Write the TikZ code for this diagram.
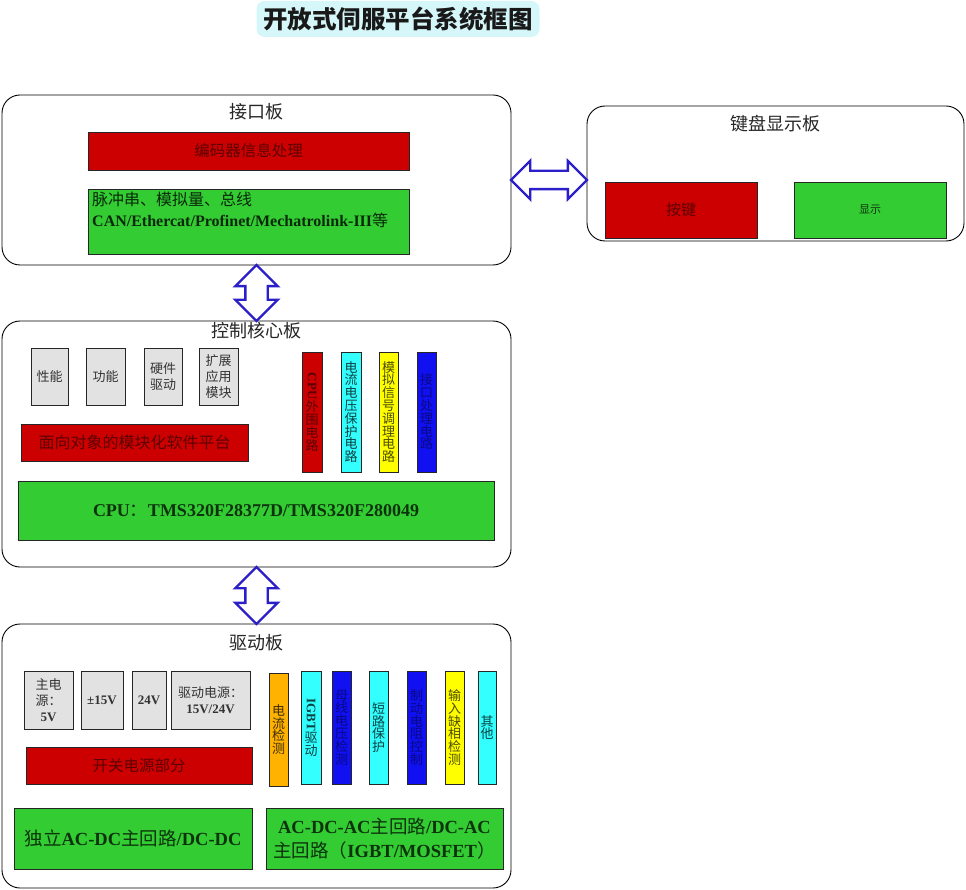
\documentclass[tikz,border=0pt]{standalone}
\usepackage{fontspec}
\usepackage{graphicx}
\setmainfont{Liberation Serif}
\newfontfamily\cjk{Noto Sans CJK SC}
\usetikzlibrary{shapes.arrows,calc}
\definecolor{rd}{HTML}{CC0000}
\definecolor{gn}{HTML}{33CC33}
\definecolor{cy}{HTML}{33FFFF}
\definecolor{yl}{HTML}{FFFF00}
\definecolor{bl}{HTML}{1010F0}
\definecolor{org}{HTML}{FFB300}
\definecolor{gy}{HTML}{E2E2E2}
\definecolor{arrowblue}{HTML}{2A1FC8}
\definecolor{titlebg}{HTML}{D6F7FA}
\newcommand{\lat}[1]{{\rmfamily\bfseries #1}}
\newcommand{\fs}[1]{\fontsize{#1}{#1}\selectfont}
\newcommand{\bx}[7]{\node[#2, minimum width={(#5-#3)*1pt}, minimum height={(#6-#4)*1pt}] (#1) at ({(#3+#5)/2},{(#4+#6)/2}) {#7};}
\tikzset{
  board/.style={draw=black, line width=0.9pt, rounded corners=18pt, fill=white, inner sep=0pt},
  blk/.style={draw=black!85, line width=0.8pt, inner sep=0pt, font=\cjk\fontsize{13}{16}\selectfont, align=center},
  redbox/.style={blk, fill=rd, text=rd!45!black},
  greenbox/.style={blk, fill=gn, text=gn!25!black},
  graybox/.style={blk, fill=gy, text=black!80},
  strip/.style={blk, font=\cjk\fontsize{13}{12.8}\selectfont},
  redstrip/.style={strip, fill=rd, text=rd!45!black},
  cystrip/.style={strip, fill=cy, text=cy!25!black},
  ylstrip/.style={strip, fill=yl, text=yl!30!black},
  blstrip/.style={strip, fill=bl, text=bl!55!black},
  orstrip/.style={strip, fill=org, text=org!25!black},
  boardlabel/.style={font=\cjk\fontsize{18}{20}\selectfont, text=black!85, inner sep=1pt},
  darrow/.style={shape=double arrow, draw=arrowblue, line width=2.4pt, fill=white, double arrow head extend=10pt, double arrow tip angle=90}
}
\begin{document}
\begin{tikzpicture}[x=1pt,y=-1pt]
\useasboundingbox (0,0) rectangle (966,890);
% title
\node[fill=titlebg, rounded corners=8pt, minimum width=283pt, minimum height=36pt, font=\cjk\bfseries\fontsize{24.5}{26}\selectfont, text=black!90] (title) at (398,19) {开放式伺服平台系统框图};
% boards
\bx{ifc}{board}{2}{95}{511}{265}{}
\bx{kbd}{board}{587}{106}{964}{241}{}
\bx{core}{board}{2}{321}{511}{567}{}
\bx{drv}{board}{2}{624}{511}{888}{}
\node[boardlabel] (ifclbl) at (256,112) {接口板};
\node[boardlabel] (kbdlbl) at (775,124) {键盘显示板};
\node[boardlabel] (corelbl) at (256,331) {控制核心板};
\node[boardlabel] (drvlbl) at (256,643) {驱动板};
% interface board
\bx{enc}{redbox, font=\cjk\fs{15.5}}{88}{132}{409}{170}{编码器信息处理}
\bx{bus}{greenbox}{88}{189}{409}{254}{}
\node[anchor=north west, align=left, inner sep=0pt, font=\cjk\fontsize{16}{21}\selectfont, text=gn!20!black] (bustxt) at (92,192) {脉冲串、模拟量、总线\\\lat{CAN/Ethercat/Profinet/Mechatrolink-III}等};
% keyboard board
\bx{key}{redbox, font=\cjk\fs{15}}{605}{182}{757}{238}{按键}
\bx{disp}{greenbox, font=\cjk\fs{11}}{794}{182}{946}{238}{显示}
% core board
\bx{perf}{graybox}{31}{348}{68}{405}{性能}
\bx{func}{graybox}{86}{348}{125}{405}{功能}
\bx{hwdrv}{graybox}{144}{348}{182}{405}{硬件\\驱动}
\bx{ext}{graybox}{199}{348}{238}{405}{扩展\\应用\\模块}
\bx{oop}{redbox, font=\cjk\fs{16}}{21}{424}{248}{461}{面向对象的模块化软件平台}
\bx{cpu}{greenbox, font=\rmfamily\bfseries\fs{18}}{18}{481}{494}{540}{CPU{\cjk\mdseries ：}TMS320F28377D/TMS320F280049}
\bx{cpuperi}{redstrip}{302}{352}{322}{472}{\rotatebox{-90}{\lat{CPU}}\\外\\围\\电\\路}
\bx{prot}{cystrip}{341}{352}{361}{472}{电\\流\\电\\压\\保\\护\\电\\路}
\bx{sig}{ylstrip}{379}{352}{398}{472}{模\\拟\\信\\号\\调\\理\\电\\路}
\bx{ifcp}{blstrip}{417}{352}{436}{472}{接\\口\\处\\理\\电\\路}
% drive board
\bx{mps}{graybox}{24}{671}{73}{729}{主电\\源：\\\lat{5V}}
\bx{p15}{graybox, font=\rmfamily\bfseries\fs{13}}{81}{671}{123}{729}{±15V}
\bx{p24}{graybox, font=\rmfamily\bfseries\fs{13}}{132}{671}{166}{729}{24V}
\bx{drvps}{graybox}{171}{671}{250}{729}{驱动电源：\\\lat{15V/24V}}
\bx{smps}{redbox, font=\cjk\fs{15.5}}{26}{747}{252}{784}{开关电源部分}
\bx{curdet}{orstrip}{269}{673}{288}{786}{电\\流\\检\\测}
\bx{igbt}{cystrip}{301}{671}{321}{784}{\rotatebox{-90}{\lat{IGBT}}\\驱\\动}
\bx{busv}{blstrip}{332}{671}{351}{784}{母\\线\\电\\压\\检\\测}
\bx{sc}{cystrip}{369}{671}{388}{784}{短\\路\\保\\护}
\bx{brk}{blstrip}{407}{671}{426}{784}{制\\动\\电\\阻\\控\\制}
\bx{phase}{ylstrip}{445}{671}{464}{784}{输\\入\\缺\\相\\检\\测}
\bx{other}{cystrip}{478}{671}{496}{784}{其\\他}
\bx{acdc}{greenbox, font=\cjk\fontsize{18.5}{24}\selectfont}{14}{808}{252}{869}{独立\lat{AC-DC}主回路\lat{/DC-DC}}
\bx{acac}{greenbox, font=\cjk\fontsize{18.5}{24}\selectfont}{266}{808}{503}{869}{\lat{AC-DC-AC}主回路\lat{/DC-AC}\\主回路（\lat{IGBT/MOSFET}）}
% double arrows between boards
\node[darrow, rotate=90, minimum height=56pt, inner sep=10pt] (a1) at ($(ifc.south)!0.5!(core.north)$) {};
\node[darrow, rotate=90, minimum height=57pt, inner sep=10pt] (a2) at ($(core.south)!0.5!(drv.north)$) {};
\node[darrow, minimum height=76pt, inner sep=8pt] (a3) at ($(ifc.east)!0.5!(kbd.west |- ifc.east)$) {};
\end{tikzpicture}
\end{document}
